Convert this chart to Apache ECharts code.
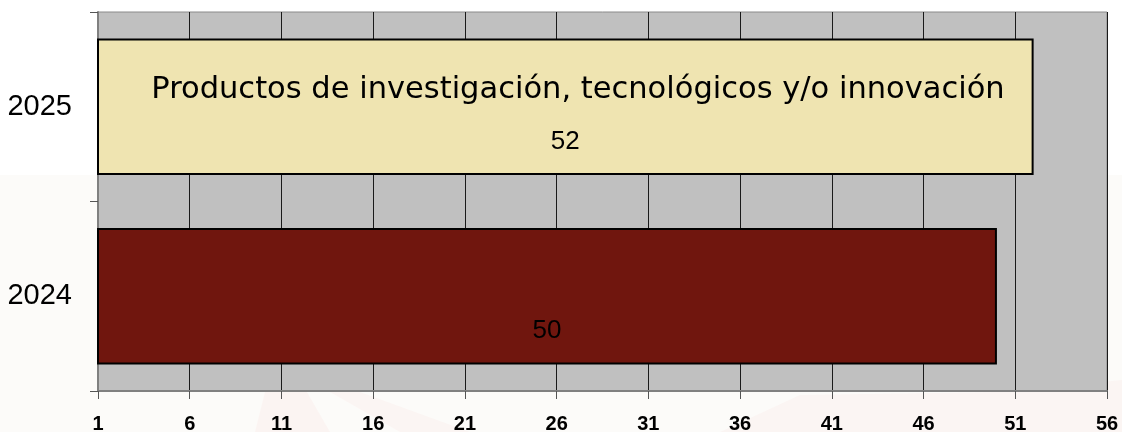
<!DOCTYPE html>
<html>
<head>
<meta charset="utf-8">
<script src="https://cdn.jsdelivr.net/npm/echarts@6/dist/echarts.min.js"></script>
<style>
html,body{margin:0;padding:0;background:#fff;}
#chart{width:1122px;height:432px;}
</style>
</head>
<body>
<div id="chart"></div>
<script>
const categories = ['2024', '2025'];
const values = [50, 52];
const barColors = ['#70160e', '#efe4b1'];
const xTicks = { min: 1, max: 56, interval: 5 };
const chartTitle = 'Productos de investigación, tecnológicos y/o innovación';

const chart = echarts.init(document.getElementById('chart'), null, { renderer: 'canvas' });
chart.setOption({
  backgroundColor: '#ffffff',
  animation: false,
  graphic: [
    { type: 'rect', z: -10, shape: { x: 0, y: 175, width: 1122, height: 257 }, style: { fill: '#fcfbf9' }, silent: true },
    { type: 'polygon', z: -9, shape: { points: [[255, 432], [265, 392], [300, 380], [330, 432]] }, style: { fill: 'rgba(220,60,60,0.035)' }, silent: true },
    { type: 'polygon', z: -9, shape: { points: [[330, 392], [360, 392], [470, 432], [400, 432]] }, style: { fill: 'rgba(220,60,60,0.03)' }, silent: true },
    { type: 'polygon', z: -9, shape: { points: [[720, 432], [800, 395], [1000, 392], [1122, 380], [1122, 432]] }, style: { fill: 'rgba(220,60,60,0.03)' }, silent: true }
  ],
  title: {
    text: chartTitle,
    left: 573,
    top: 70,
    textAlign: 'center',
    textStyle: { fontFamily: 'DejaVu Sans', fontSize: 30.5, fontWeight: 'normal', color: '#000' }
  },
  grid: {
    left: 98, right: 15, top: 12, bottom: 41,
    outerBoundsMode: 'none',
    containLabel: false,
    show: true, backgroundColor: '#c0c0c0', borderColor: '#8a8a8a', borderWidth: 1
  },
  xAxis: {
    type: 'value',
    min: xTicks.min, max: xTicks.max, interval: xTicks.interval,
    axisLine: { show: true, lineStyle: { color: '#808080', width: 2 } },
    axisTick: { show: true, length: 8, lineStyle: { color: '#555', width: 1 } },
    splitLine: { show: true, lineStyle: { color: '#1a1a1a', width: 1 } },
    axisLabel: {
      margin: 23,
      fontFamily: 'Liberation Sans',
      fontWeight: 'bold', fontSize: 20, color: '#000'
    }
  },
  yAxis: {
    type: 'category',
    data: categories,
    axisLine: { show: true, lineStyle: { color: '#808080', width: 2 } },
    axisTick: { show: true, length: 8, lineStyle: { color: '#555', width: 1 } },
    axisLabel: { margin: 26, fontFamily: 'Liberation Sans', fontSize: 29, color: '#000' }
  },
  series: [{
    type: 'bar',
    barWidth: '72%',
    data: values.map((v, i) => ({ value: v, itemStyle: { color: barColors[i] } })),
    itemStyle: { borderColor: '#000', borderWidth: 2 },
    label: {
      show: true, position: 'inside', offset: [0, 35],
      fontFamily: 'Liberation Sans', fontSize: 26, color: '#000'
    }
  }]
});
</script>
</body>
</html>
